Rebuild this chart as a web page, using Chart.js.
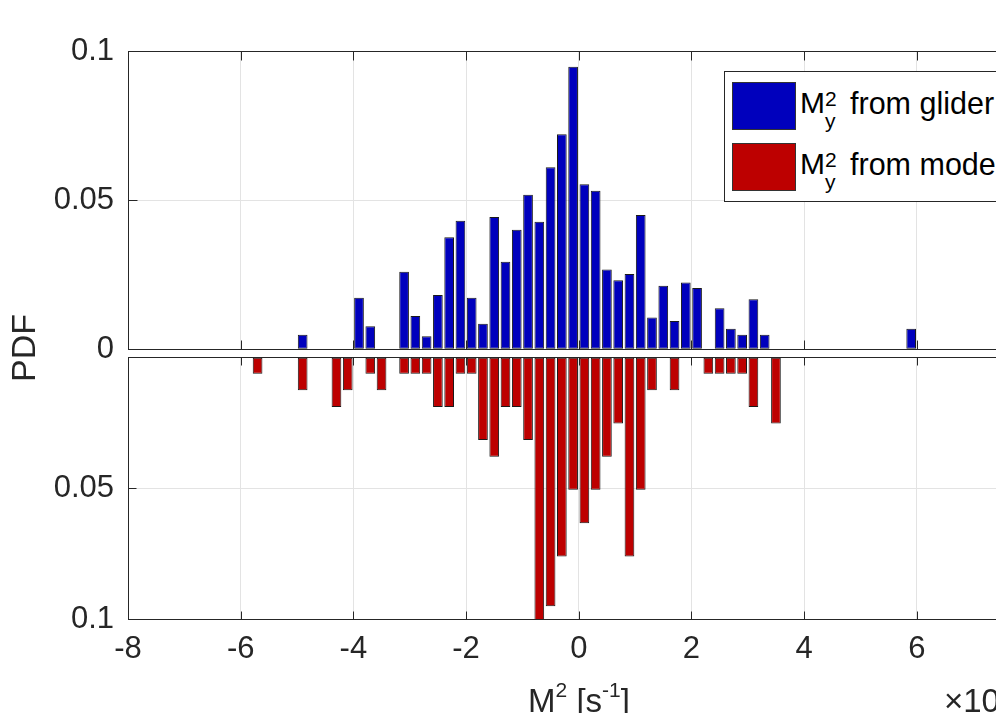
<!DOCTYPE html>
<html>
<head>
<meta charset="utf-8">
<script src="https://cdn.jsdelivr.net/npm/chart.js@4/dist/chart.umd.min.js"></script>
<style>
body{margin:0;width:996px;height:713px;overflow:hidden;background:#fff;font-family:"Liberation Sans",Arial,sans-serif;color:#262626}
#wrap{position:relative;width:996px;height:713px;overflow:hidden}
canvas{position:absolute;left:0}
.t{position:absolute;line-height:1;white-space:nowrap}
.sw{position:absolute;left:732px;width:62px;height:46px;border:1px solid #333}
</style>
</head>
<body>
<div id="wrap">
<canvas id="top" width="1100" height="400" style="top:0"></canvas>
<canvas id="bot" width="1100" height="440" style="top:300px"></canvas>

<div class="t" style="left:23px;top:348px;font-size:34px;transform:translate(-50%,-50%) rotate(-90deg)">PDF</div>

<div style="position:absolute;left:724px;top:71px;width:295px;height:129px;border:1px solid #262626;background:#fff"></div>
<div class="sw" style="top:82px;background:#0000bd"></div>
<div class="sw" style="top:143px;background:#bd0000"></div>
<div class="t" style="left:800px;top:88px;font-size:30px;color:#000">M</div>
<div class="t" style="left:825px;top:88px;font-size:21px;color:#000">2</div>
<div class="t" style="left:825px;top:110px;font-size:21px;color:#000">y</div>
<div class="t" style="left:850px;top:88px;font-size:30.5px;color:#000">from glider</div>
<div class="t" style="left:800px;top:149px;font-size:30px;color:#000">M</div>
<div class="t" style="left:825px;top:149px;font-size:21px;color:#000">2</div>
<div class="t" style="left:825px;top:171px;font-size:21px;color:#000">y</div>
<div class="t" style="left:850px;top:149px;font-size:30.5px;color:#000">from model</div>

<div class="t" style="left:579px;top:684px;font-size:33px;transform:translateX(-50%)">M<span style="font-size:21px;position:relative;top:-15px">2</span> [s<span style="font-size:21px;position:relative;top:-15px">-1</span>]</div>
<div class="t" style="left:944px;top:684px;font-size:33px">×10<span style="font-size:21px;position:relative;top:-15px">-7</span></div>
</div>

<script>

let xTicks=[-8,-6,-4,-2,0,2,4,6,8]
let yTicks=[0,0.05,0.1]

let gliderX=[-4.9,-3.9,-3.7,-3.1,-2.9,-2.7,-2.5,-2.3,-2.1,-1.9,-1.7,-1.5,-1.3,-1.1,-0.9,-0.7,-0.5,-0.3,-0.1,0.1,0.3,0.5,0.7,0.9,1.1,1.3,1.5,1.7,1.9,2.1,2.5,2.7,2.9,3.1,3.3,5.9]
let gliderY=[0.0049,0.0173,0.0077,0.026,0.0112,0.0044,0.0182,0.0376,0.0431,0.0173,0.0086,0.0444,0.0294,0.0401,0.0519,0.0428,0.0611,0.0722,0.0948,0.0554,0.0532,0.0268,0.0232,0.0253,0.0451,0.0107,0.0213,0.0095,0.0224,0.0206,0.0138,0.0069,0.0049,0.0168,0.0049,0.0069]

let modelX=[-5.7,-4.9,-4.3,-4.1,-3.7,-3.5,-3.1,-2.9,-2.7,-2.5,-2.3,-2.1,-1.9,-1.7,-1.5,-1.3,-1.1,-0.9,-0.7,-0.5,-0.3,-0.1,0.1,0.3,0.5,0.7,0.9,1.1,1.3,1.7,2.3,2.5,2.7,2.9,3.1,3.5]
let modelY=[0.0063,0.0126,0.019,0.0126,0.0063,0.0126,0.0063,0.0063,0.0063,0.019,0.019,0.0063,0.0063,0.0316,0.038,0.019,0.019,0.0316,0.101,0.095,0.076,0.0506,0.0633,0.0506,0.038,0.0253,0.076,0.0506,0.0126,0.0126,0.0063,0.0063,0.0063,0.0063,0.019,0.0253]

Chart.defaults.font.family="'Liberation Sans', Arial, sans-serif"
Chart.defaults.font.size=31
Chart.defaults.color="#262626"

// matlab style box with inner ticks
const frame={
id:"frame",
afterDraw(chart){
let ctx=chart.ctx
let a=chart.chartArea
let xs=chart.scales.x
let ys=chart.scales.y
let L=Math.round(a.left)+0.5, R=Math.round(a.right)+0.5
let T=Math.round(a.top)+0.5, B=Math.round(a.bottom)+0.5
let tl=chart.options.tickLen
ctx.save()
ctx.strokeStyle="#262626"
ctx.lineWidth=1
ctx.strokeRect(L,T,R-L,B-T)
ctx.beginPath()
xTicks.forEach(v=>{
let p=Math.round(xs.getPixelForValue(v))+0.5
ctx.moveTo(p,B);ctx.lineTo(p,B-tl)
ctx.moveTo(p,T);ctx.lineTo(p,T+tl)
})
yTicks.forEach(v=>{
let p=Math.round(ys.getPixelForValue(v))+0.5
ctx.moveTo(L,p);ctx.lineTo(L+tl,p)
ctx.moveTo(R,p);ctx.lineTo(R-tl,p)
})
ctx.stroke()
ctx.restore()
}
}

function makeChart(id,xs,ys,color,bottom){

let pts=xs.map((x,i)=>({x:x,y:ys[i]}))

return new Chart(document.getElementById(id),{
type:"bar",
data:{
datasets:[{
data:pts,
backgroundColor:color,
borderColor:"#1a1a1a",
borderWidth:1,
borderSkipped:false,
barPercentage:0.86,
categoryPercentage:1
}]
},
options:{
responsive:false,
animation:false,
devicePixelRatio:1,
tickLen:bottom?8:9,
layout:{padding:bottom?{top:57.3,bottom:60.7,left:0,right:70.5}:{top:51.3,bottom:50.7,left:0,right:70.5}},
plugins:{legend:{display:false},tooltip:{enabled:false}},
scales:{
x:{
type:"linear",
min:-8,max:8,
offset:false,
afterBuildTicks:s=>{s.ticks=xTicks.map(v=>({value:v}))},
afterFit:s=>{s.height=bottom?60:0},
ticks:{display:bottom,padding:12,callback:v=>String(v)},
grid:{color:"#e3e3e3",drawTicks:false,offset:false},
border:{display:false}
},
y:{
min:0,max:0.1,
reverse:bottom,
afterBuildTicks:s=>{s.ticks=yTicks.map(v=>({value:v}))},
afterFit:s=>{s.width=128},
ticks:{padding:14,callback:v=>(bottom&&v===0)?"":String(v)},
grid:{color:"#e3e3e3",drawTicks:false},
border:{display:false}
}
}
},
plugins:[frame]
})

}

makeChart("top",gliderX,gliderY,"#0000bd",false)
makeChart("bot",modelX,modelY,"#bd0000",true)

</script>
</body>
</html>
